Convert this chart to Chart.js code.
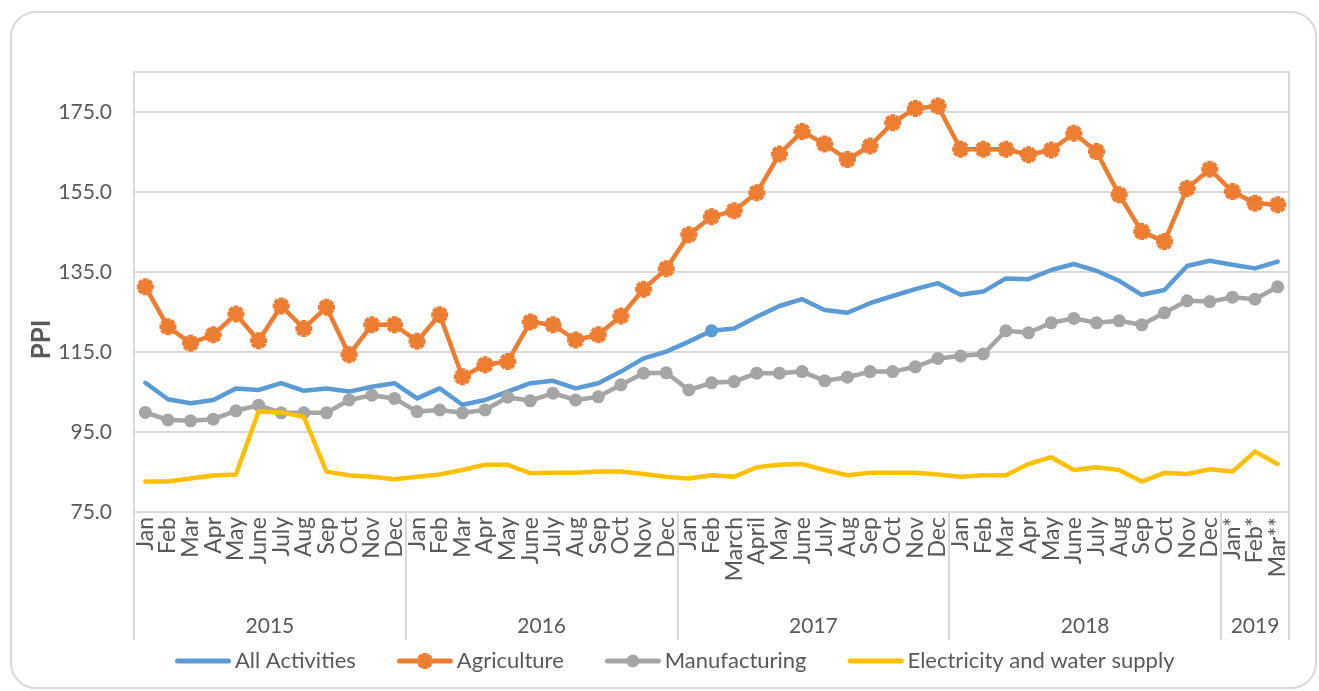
<!DOCTYPE html>
<html><head><meta charset="utf-8">
<script src="https://cdn.jsdelivr.net/npm/chart.js@4.4.1/dist/chart.umd.min.js"></script>
<style>
html,body{margin:0;padding:0;background:#fff;width:1319px;height:691px;overflow:hidden;}
#card{position:absolute;left:10px;top:11px;width:1307px;height:678px;box-sizing:border-box;border:2px solid #d9d9d9;border-radius:26px;}
#wrap{position:absolute;left:0;top:0;width:1319px;height:691px;}
</style></head><body>
<div id="card"></div>
<div id="wrap"><canvas id="c" width="1319" height="691"></canvas></div>
<script>
// ---- data ----
const years = ['2015', '2016', '2017', '2018', '2019'];
const monthsPerYear = [12, 12, 12, 12, 3];
const months = [
  'Jan','Feb','Mar','Apr','May','June','July','Aug','Sep','Oct','Nov','Dec',
  'Jan','Feb','Mar','Apr','May','June','July','Aug','Sep','Oct','Nov','Dec',
  'Jan','Feb','March','April','May','June','July','Aug','Sep','Oct','Nov','Dec',
  'Jan','Feb','Mar','Apr','May','June','July','Aug','Sep','Oct','Nov','Dec',
  'Jan*','Feb*','Mar**'
];
const allActivities = [
  107.3,103.2,102.2,103.0,105.9,105.5,107.2,105.3,105.9,105.1,106.3,107.2,
  103.4,105.9,101.8,103.0,105.1,107.2,107.8,105.9,107.2,110.1,113.4,115.1,
  117.6,120.3,120.9,123.8,126.5,128.2,125.5,124.8,127.2,129.0,130.7,132.2,
  129.3,130.1,133.4,133.2,135.5,137.0,135.3,132.8,129.3,130.5,136.5,137.8,
  136.8,135.9,137.6
];
const agriculture = [
  131.3,121.3,117.2,119.3,124.5,117.8,126.5,120.9,126.2,114.3,121.8,121.8,
  117.7,124.3,108.8,111.8,112.6,122.5,121.8,118.0,119.3,124.0,130.7,135.8,
  144.3,148.8,150.3,154.8,164.5,170.1,167.0,163.1,166.5,172.3,175.9,176.5,
  165.7,165.7,165.7,164.3,165.5,169.7,165.1,154.3,145.1,142.6,155.9,160.7,
  155.1,152.2,151.8
];
const manufacturing = [
  99.9,98.0,97.8,98.2,100.3,101.7,99.8,99.8,99.8,103.0,104.2,103.4,
  100.1,100.5,99.8,100.5,103.7,102.8,104.7,103.0,103.8,106.8,109.7,109.8,
  105.5,107.3,107.6,109.7,109.7,110.1,107.8,108.7,110.1,110.1,111.3,113.4,
  114.0,114.5,120.3,119.8,122.3,123.4,122.3,122.8,121.8,124.8,127.8,127.6,
  128.7,128.2,131.3
];
const electricity = [
  82.6,82.6,83.4,84.1,84.4,100.1,99.9,98.8,85.1,84.2,83.8,83.2,
  83.8,84.4,85.5,86.8,86.8,84.7,84.8,84.8,85.1,85.1,84.5,83.8,
  83.4,84.2,83.8,86.2,86.8,87.0,85.5,84.2,84.8,84.8,84.8,84.4,
  83.8,84.2,84.2,87.0,88.7,85.5,86.2,85.5,82.6,84.8,84.5,85.7,
  85.1,90.1,87.0
];
const seriesNames = ['All Activities', 'Agriculture', 'Manufacturing', 'Electricity and water supply'];
const yTitle = 'PPI';
const yTicks = [75, 95, 115, 135, 155, 175];
const yMax = 185;
const highlightedPoint = 25; // Feb 2017 marker on All Activities

// ---- styling ----
const FONT = 'Lato';
const TXT = '#595959';
const GRID = '#d9d9d9';
const COLORS = ['#5B9BD5', '#ED7D31', '#A5A5A5', '#FFC000'];
const LEG_FS = 22;
const LEG_BOX = 80;

// year boundaries / centres derived from month counts
const bounds = [0];
monthsPerYear.forEach(n => bounds.push(bounds[bounds.length - 1] + n));
const boundVals = bounds.map(b => b - 0.5);
const centreVals = monthsPerYear.map((n, i) => bounds[i] + n / 2 - 0.5);

function legendIcon(color, marker) {
  const c = document.createElement('canvas');
  c.width = LEG_BOX + LEG_FS - 4; c.height = 22;
  const g = c.getContext('2d');
  const x2 = c.width - 2, x1 = x2 - 56, y = 11;
  g.strokeStyle = color; g.lineWidth = 5; g.lineCap = 'round';
  g.beginPath(); g.moveTo(x1 + 2.5, y); g.lineTo(x2 - 2.5, y); g.stroke();
  const cx = (x1 + x2) / 2;
  if (marker === 'star') {
    g.lineWidth = 5; g.lineCap = 'butt';
    const r = 8;
    for (let k = 0; k < 4; k++) {
      const a = k * Math.PI / 4;
      g.beginPath();
      g.moveTo(cx - Math.cos(a) * r, y - Math.sin(a) * r);
      g.lineTo(cx + Math.cos(a) * r, y + Math.sin(a) * r);
      g.stroke();
    }
  } else if (marker === 'circle') {
    g.fillStyle = color;
    g.beginPath(); g.arc(cx, y, 6.5, 0, Math.PI * 2); g.fill();
  }
  return c;
}
const legendMarkers = ['none', 'star', 'circle', 'none'];

const baseLine = {
  fill: false, tension: 0, borderWidth: 4.5,
  borderJoinStyle: 'round', borderCapStyle: 'round'
};

const chart = new Chart(document.getElementById('c'), {
  type: 'line',
  data: {
    labels: months,
    datasets: [
      Object.assign({}, baseLine, {
        label: seriesNames[0], data: allActivities, borderColor: COLORS[0], backgroundColor: COLORS[0],
        pointRadius: ctx => ctx.dataIndex === highlightedPoint ? 6.5 : 0, pointBorderWidth: 0,
        pointBackgroundColor: COLORS[0], order: 4
      }),
      Object.assign({}, baseLine, {
        label: seriesNames[1], data: agriculture, borderColor: COLORS[1], backgroundColor: COLORS[1],
        pointStyle: 'star', pointRadius: 8.5, pointBorderWidth: 5, pointBorderColor: COLORS[1],
        pointBackgroundColor: COLORS[1], order: 3
      }),
      Object.assign({}, baseLine, {
        label: seriesNames[2], data: manufacturing, borderColor: COLORS[2], backgroundColor: COLORS[2],
        pointStyle: 'circle', pointRadius: 6.5, pointBorderWidth: 0,
        pointBackgroundColor: COLORS[2], order: 2
      }),
      Object.assign({}, baseLine, {
        label: seriesNames[3], data: electricity, borderColor: COLORS[3], backgroundColor: COLORS[3],
        pointRadius: 0, order: 1
      })
    ]
  },
  options: {
    responsive: false,
    animation: false,
    events: [],
    layout: { padding: { left: 11, right: 30, top: 72, bottom: 9 } },
    plugins: {
      tooltip: { enabled: false },
      legend: {
        position: 'bottom', align: 'start', fullSize: false,
        labels: {
          usePointStyle: true, pointStyleWidth: LEG_BOX, padding: 10,
          color: TXT, font: { family: FONT, size: LEG_FS },
          generateLabels: ch => ch.data.datasets.map((ds, i) => ({
            text: ds.label, pointStyle: legendIcon(COLORS[i], legendMarkers[i]),
            fillStyle: COLORS[i], strokeStyle: COLORS[i], lineWidth: 0,
            hidden: false, datasetIndex: i, fontColor: TXT
          }))
        }
      }
    },
    scales: {
      x: {
        type: 'category', position: 'bottom', offset: true,
        grid: {
          offset: true, drawOnChartArea: false, drawTicks: true, tickLength: 78, lineWidth: 2,
          color: ctx => (ctx.type !== 'tick' || bounds.includes(ctx.index)) ? GRID : 'rgba(0,0,0,0)'
        },
        border: { display: true, color: GRID, width: 2 },
        ticks: {
          autoSkip: false, minRotation: 90, maxRotation: 90, padding: -73,
          color: TXT, font: { family: FONT, size: 23 }
        },
        afterFit: s => { s.height = 78; }
      },
      x2: {
        type: 'linear', position: 'bottom', min: boundVals[0], max: boundVals[boundVals.length - 1],
        afterBuildTicks: s => { s.ticks = boundVals.concat(centreVals).sort((a, b) => a - b).map(v => ({ value: v })); },
        grid: {
          drawOnChartArea: false, drawTicks: true, tickLength: 50, lineWidth: 2,
          color: ctx => (ctx.tick && boundVals.includes(ctx.tick.value)) ? GRID : 'rgba(0,0,0,0)'
        },
        border: { display: false },
        ticks: {
          autoSkip: false, maxRotation: 0, minRotation: 0, padding: -26,
          color: TXT, font: { family: FONT, size: 21 },
          callback: v => { const i = centreVals.indexOf(v); return i >= 0 ? years[i] : ''; }
        },
        afterFit: s => { s.height = 50; }
      },
      y: {
        type: 'linear', position: 'left', min: yTicks[0], max: yMax,
        afterBuildTicks: s => { s.ticks = yTicks.concat([yMax]).map(v => ({ value: v })); },
        grid: { color: GRID, lineWidth: 2, drawTicks: false },
        border: { display: true, color: GRID, width: 2 },
        ticks: {
          padding: 22, color: TXT, font: { family: FONT, size: 21 },
          callback: v => v === yMax ? '' : v.toFixed(1)
        },
        title: {
          display: true, text: yTitle + ' '.repeat(15), color: TXT,
          font: { family: FONT, size: 26, weight: 'bold' }, padding: { top: 15, bottom: 0 }
        },
        afterFit: s => { s.width = 123; }
      },
      y2: {
        type: 'linear', position: 'right', min: yTicks[0], max: yMax,
        grid: { drawOnChartArea: false, drawTicks: false },
        border: { display: true, color: GRID, width: 2 },
        ticks: { display: false },
        afterFit: s => { s.width = 0; }
      }
    }
  }
});
</script>
</body></html>
